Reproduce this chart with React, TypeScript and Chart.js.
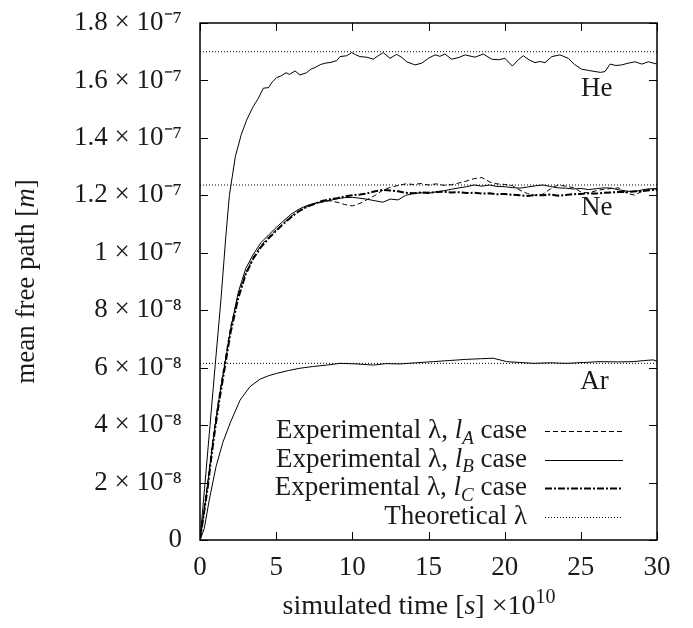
import React, { useEffect, useRef } from "react";
import { Chart, registerables } from "chart.js";

Chart.register(...registerables);

const FONT = "'Liberation Serif', 'Times New Roman', serif";
const FS = 27;

// axis ticks (x in 1e-10 s, y in 1e-7 m)
const xTicks = [0, 5, 10, 15, 20, 25, 30];
const yTicks = [0, 0.2, 0.4, 0.6, 0.8, 1.0, 1.2, 1.4, 1.6, 1.8];

// theoretical mean free path (1e-7 m): He, Ne, Ar
const theoryNames = ["He", "Ne", "Ar"];
const theoryLambda = [1.70, 1.236, 0.615];
const theoryT = [0, 30];

// He, l_B case
const heT = [0, 0.3, 0.61, 1.0, 1.38, 1.7, 1.93, 2.32, 2.7, 3.06, 3.5, 3.8, 4.16, 4.49, 4.75, 5.03, 5.3, 5.65, 5.87, 6.24, 6.56, 7.0, 7.3, 7.55, 7.9, 8.2, 8.6, 8.97, 9.19, 9.63, 9.96, 10.2, 10.5, 10.94, 11.38, 11.7, 12.03, 12.47, 12.91, 13.25, 13.57, 14.11, 14.55, 14.99, 15.43, 15.75, 16.08, 16.52, 17.0, 17.4, 18.05, 18.6, 19.15, 19.6, 20.02, 20.5, 20.9, 21.22, 21.6, 21.99, 22.3, 22.65, 23.09, 23.63, 24.18, 24.6, 25.06, 25.5, 25.93, 26.3, 26.59, 26.92, 27.3, 27.68, 28.1, 28.56, 29.0, 29.43, 30.0];
const heV = [0, 0.18, 0.37, 0.61, 0.84, 1.06, 1.2, 1.335, 1.41, 1.462, 1.51, 1.535, 1.573, 1.575, 1.595, 1.61, 1.615, 1.627, 1.621, 1.633, 1.619, 1.627, 1.64, 1.645, 1.655, 1.66, 1.663, 1.669, 1.683, 1.686, 1.697, 1.69, 1.683, 1.681, 1.674, 1.686, 1.697, 1.677, 1.691, 1.68, 1.665, 1.654, 1.66, 1.677, 1.689, 1.684, 1.692, 1.674, 1.68, 1.689, 1.681, 1.692, 1.674, 1.672, 1.677, 1.65, 1.672, 1.686, 1.672, 1.662, 1.666, 1.662, 1.683, 1.689, 1.677, 1.655, 1.639, 1.635, 1.631, 1.628, 1.631, 1.657, 1.652, 1.654, 1.66, 1.665, 1.657, 1.665, 1.657];

// Ne, three cases
const neT = [0, 0.25, 0.5, 0.75, 1, 1.25, 1.5, 1.75, 2, 2.5, 3, 3.5, 4, 4.5, 5, 5.5, 6, 6.5, 7, 7.5, 8, 8.5, 9, 9.5, 10, 10.5, 11, 11.5, 12, 12.5, 13, 13.5, 14, 14.5, 15, 15.5, 16, 16.5, 17, 17.5, 18, 18.5, 19, 19.5, 20, 20.5, 21, 21.5, 22, 22.5, 23, 23.5, 24, 24.5, 25, 25.5, 26, 26.5, 27, 27.5, 28, 28.5, 29, 29.5, 30];
const neA = [0, 0.10, 0.20, 0.31, 0.41, 0.50, 0.58, 0.66, 0.74, 0.85, 0.93, 0.985, 1.025, 1.055, 1.08, 1.105, 1.128, 1.146, 1.16, 1.17, 1.176, 1.181, 1.176, 1.168, 1.163, 1.172, 1.186, 1.2, 1.218, 1.228, 1.234, 1.24, 1.238, 1.241, 1.236, 1.24, 1.235, 1.237, 1.243, 1.25, 1.258, 1.262, 1.247, 1.24, 1.238, 1.234, 1.218, 1.206, 1.2, 1.204, 1.222, 1.236, 1.232, 1.227, 1.212, 1.208, 1.216, 1.221, 1.224, 1.226, 1.208, 1.201, 1.213, 1.221, 1.224];
const neB = [0, 0.09, 0.19, 0.30, 0.40, 0.49, 0.57, 0.65, 0.73, 0.86, 0.945, 0.995, 1.035, 1.062, 1.088, 1.112, 1.135, 1.152, 1.164, 1.172, 1.178, 1.182, 1.188, 1.192, 1.193, 1.19, 1.186, 1.181, 1.176, 1.187, 1.184, 1.2, 1.206, 1.209, 1.207, 1.212, 1.216, 1.221, 1.226, 1.23, 1.236, 1.232, 1.236, 1.231, 1.23, 1.227, 1.225, 1.229, 1.233, 1.236, 1.231, 1.226, 1.225, 1.222, 1.224, 1.22, 1.223, 1.226, 1.225, 1.219, 1.215, 1.212, 1.219, 1.223, 1.222];
const neC = [0, 0.09, 0.18, 0.29, 0.39, 0.48, 0.56, 0.64, 0.72, 0.84, 0.925, 0.98, 1.02, 1.05, 1.077, 1.102, 1.125, 1.145, 1.16, 1.17, 1.18, 1.186, 1.19, 1.196, 1.2, 1.203, 1.207, 1.214, 1.219, 1.217, 1.214, 1.209, 1.207, 1.21, 1.209, 1.212, 1.213, 1.21, 1.211, 1.208, 1.209, 1.206, 1.207, 1.204, 1.205, 1.202, 1.2, 1.198, 1.201, 1.2, 1.203, 1.199, 1.201, 1.204, 1.205, 1.207, 1.206, 1.209, 1.21, 1.212, 1.211, 1.214, 1.215, 1.218, 1.219];

// Ar, l_B case
const arT = [0, 0.28, 0.61, 1.05, 1.5, 2.0, 2.63, 3.28, 3.94, 4.5, 5.03, 5.8, 6.56, 7.4, 8.32, 9.19, 10.3, 11.38, 12.2, 13.13, 14.2, 15.32, 16.4, 17.51, 18.4, 19.25, 20.13, 21.0, 21.88, 23.0, 24.07, 25.2, 26.26, 27.4, 28.44, 29.2, 29.75, 30];
const arV = [0, 0.04, 0.14, 0.255, 0.34, 0.41, 0.487, 0.534, 0.56, 0.572, 0.58, 0.59, 0.598, 0.604, 0.609, 0.615, 0.613, 0.609, 0.614, 0.613, 0.617, 0.621, 0.625, 0.629, 0.631, 0.633, 0.621, 0.618, 0.615, 0.617, 0.615, 0.618, 0.621, 0.62, 0.621, 0.625, 0.627, 0.622];

const STYLE_A = { borderDash: [5, 3], borderWidth: 1 };
const STYLE_B = { borderDash: [] as number[], borderWidth: 1 };
const STYLE_C = { borderDash: [7, 2, 2, 2], borderWidth: 2 };
const STYLE_T = { borderDash: [1, 2], borderWidth: 1 };

type Part = { t: string; it?: boolean; sub?: boolean; sup?: boolean };

const partFont = (p: Part, size: number) => {
  const s = p.sub || p.sup ? Math.round(size * 0.7) : size;
  return `${p.it ? "italic " : ""}${s}px ${FONT}`;
};
const measureParts = (ctx: CanvasRenderingContext2D, parts: Part[], size: number) => {
  let w = 0;
  for (const p of parts) {
    ctx.font = partFont(p, size);
    w += ctx.measureText(p.t).width;
  }
  return w;
};
const drawParts = (ctx: CanvasRenderingContext2D, parts: Part[], x: number, base: number, size: number) => {
  let cx = x;
  ctx.textAlign = "left";
  ctx.textBaseline = "alphabetic";
  for (const p of parts) {
    ctx.font = partFont(p, size);
    const dy = p.sub ? size * 0.22 : p.sup ? -size * 0.4 : 0;
    ctx.fillText(p.t, cx, base + dy);
    cx += ctx.measureText(p.t).width;
  }
};

const legendRows = [
  { parts: [{ t: "Experimental λ, " }, { t: "l", it: true }, { t: "A", it: true, sub: true }, { t: " case" }] as Part[], style: STYLE_A },
  { parts: [{ t: "Experimental λ, " }, { t: "l", it: true }, { t: "B", it: true, sub: true }, { t: " case" }] as Part[], style: STYLE_B },
  { parts: [{ t: "Experimental λ, " }, { t: "l", it: true }, { t: "C", it: true, sub: true }, { t: " case" }] as Part[], style: STYLE_C },
  { parts: [{ t: "Theoretical λ" }] as Part[], style: STYLE_T },
];

const yTitle: Part[] = [{ t: "mean free path [" }, { t: "m", it: true }, { t: "]" }];
const xTitle: Part[] = [{ t: "simulated time [" }, { t: "s", it: true }, { t: "] ×10" }, { t: "10", sup: true }];

const decorPlugin = {
  id: "decor",
  afterDraw(chart: any) {
    const { ctx, chartArea: a, scales } = chart;
    const xs = scales.x;
    const ys = scales.y;
    ctx.save();
    ctx.strokeStyle = "#000";
    ctx.setLineDash([]);
    // inward ticks on all sides
    ctx.lineWidth = 1;
    const tl = 8;
    ctx.beginPath();
    for (const t of xTicks) {
      const px = Math.round(xs.getPixelForValue(t)) + 0.5;
      ctx.moveTo(px, a.bottom);
      ctx.lineTo(px, a.bottom - tl);
      ctx.moveTo(px, a.top);
      ctx.lineTo(px, a.top + tl);
    }
    for (const v of yTicks) {
      const py = Math.round(ys.getPixelForValue(v)) + 0.5;
      ctx.moveTo(a.left, py);
      ctx.lineTo(a.left + tl, py);
      ctx.moveTo(a.right, py);
      ctx.lineTo(a.right - tl, py);
    }
    ctx.stroke();
    // frame
    ctx.lineWidth = 1.5;
    ctx.strokeRect(a.left, a.top, a.right - a.left, a.bottom - a.top);

    ctx.fillStyle = "#1a1a1a";
    // gas labels
    ctx.font = `${FS}px ${FONT}`;
    ctx.textAlign = "center";
    ctx.textBaseline = "middle";
    const gasPos = [
      [26.05, 1.57],
      [26.05, 1.156],
      [25.9, 0.55],
    ];
    theoryNames.forEach((n, i) => {
      ctx.fillText(n, xs.getPixelForValue(gasPos[i][0]), ys.getPixelForValue(gasPos[i][1]));
    });

    // legend (gnuplot style: right aligned text, sample to the right)
    const textRight = 527;
    const baseTop = 438;
    const rowH = 28.5;
    legendRows.forEach((row, i) => {
      const base = baseTop + i * rowH;
      const w = measureParts(ctx, row.parts, FS);
      drawParts(ctx, row.parts, textRight - w, base, FS);
      ctx.beginPath();
      ctx.setLineDash(row.style.borderDash);
      ctx.lineWidth = row.style.borderWidth;
      const ly = Math.round(base - 7) + 0.5;
      ctx.moveTo(545, ly);
      ctx.lineTo(623, ly);
      ctx.stroke();
    });
    ctx.setLineDash([]);

    // axis titles
    const XFS = 28;
    const xw = measureParts(ctx, xTitle, XFS);
    drawParts(ctx, xTitle, 419 - xw / 2, 614, XFS);
    ctx.save();
    ctx.translate(34, (a.top + a.bottom) / 2);
    ctx.rotate(-Math.PI / 2);
    const yw = measureParts(ctx, yTitle, FS);
    drawParts(ctx, yTitle, -yw / 2, 0, FS);
    ctx.restore();
    ctx.restore();
  },
};

const yLabel = (value: number) => {
  const k = Math.round(value * 10);
  if (k === 0) return "0";
  if (k < 10) return `${k} × 10⁻⁸`;
  if (k === 10) return "1 × 10⁻⁷";
  return `${(k / 10).toFixed(1)} × 10⁻⁷`;
};

const pts = (ts: number[], vs: number[]) => ts.map((t, i) => ({ x: t, y: vs[i] }));

const noScalePadding = (s: any) => {
  s.paddingTop = 0;
  s.paddingBottom = 0;
  s.paddingLeft = 0;
  s.paddingRight = 0;
};

export default function App() {
  const ref = useRef<HTMLCanvasElement | null>(null);
  useEffect(() => {
    if (!ref.current) return;
    const line = (label: string, data: any[], style: any) => ({
      label,
      data,
      borderColor: "#000",
      backgroundColor: "#000",
      pointRadius: 0,
      tension: 0,
      fill: false,
      ...style,
    });
    const datasets: any[] = theoryLambda.map((v, i) =>
      line(`Theoretical λ (${theoryNames[i]})`, pts(theoryT, [v, v]), STYLE_T)
    );
    datasets.push(line("He, l_B", pts(heT, heV), STYLE_B));
    datasets.push(line("Ne, l_A", pts(neT, neA), STYLE_A));
    datasets.push(line("Ne, l_B", pts(neT, neB), STYLE_B));
    datasets.push(line("Ne, l_C", pts(neT, neC), STYLE_C));
    datasets.push(line("Ar, l_B", pts(arT, arV), STYLE_B));

    const chart = new Chart(ref.current, {
      type: "line",
      data: { datasets },
      plugins: [decorPlugin],
      options: {
        responsive: false,
        animation: false,
        devicePixelRatio: 1,
        layout: { padding: { left: 0, right: 36, top: 23, bottom: 0 } },
        plugins: { legend: { display: false }, tooltip: { enabled: false } },
        scales: {
          x: {
            type: "linear",
            min: 0,
            max: 30,
            afterBuildTicks: (s: any) => {
              s.ticks = xTicks.map((v) => ({ value: v }));
            },
            afterFit: (s: any) => {
              s.height = 88;
              noScalePadding(s);
            },
            grid: { display: false, drawTicks: false },
            border: { display: false },
            ticks: { padding: 12, color: "#1a1a1a", font: { family: FONT, size: FS }, maxRotation: 0 },
          },
          y: {
            type: "linear",
            min: 0,
            max: 1.8,
            afterBuildTicks: (s: any) => {
              s.ticks = yTicks.map((v) => ({ value: v }));
            },
            afterFit: (s: any) => {
              s.width = 200;
              noScalePadding(s);
            },
            grid: { display: false, drawTicks: false },
            border: { display: false },
            ticks: {
              padding: 18,
              color: "#1a1a1a",
              font: { family: FONT, size: FS },
              callback: (v: any) => yLabel(Number(v)),
            },
          },
        },
      },
    });
    return () => chart.destroy();
  }, []);
  return (
    <div style={{ position: "fixed", left: 0, top: 0, width: 693, height: 628, background: "#fff" }}>
      <canvas ref={ref} width={693} height={628} />
    </div>
  );
}
